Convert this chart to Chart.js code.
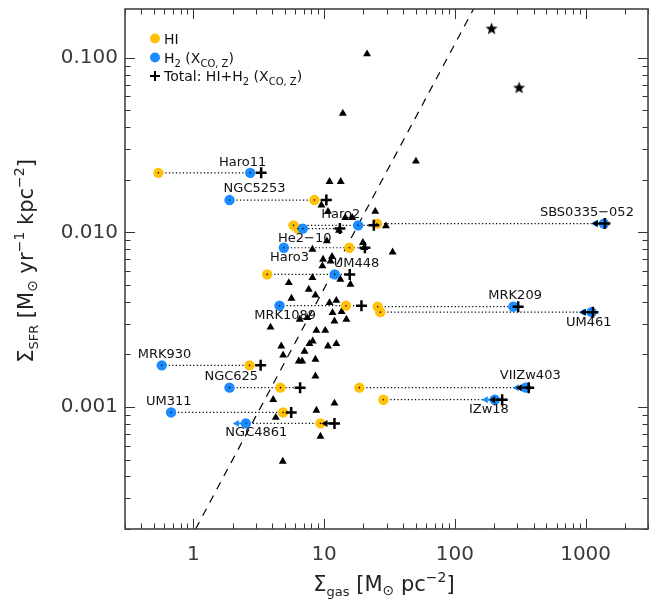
<!DOCTYPE html>
<html>
<head>
<meta charset="utf-8">
<script src="https://cdn.jsdelivr.net/npm/chart.js@4.4.1/dist/chart.umd.min.js"></script>
<style>
  body { margin: 0; background: #fff; }
  #wrap { width: 669px; height: 599px; }
</style>
</head>
<body>
<div id="wrap"><canvas id="grafico" width="669" height="599"></canvas></div>
<script>
    // galaxias com HI, H2 (X_CO,Z) e total
    const galaxies = ['Haro11', 'NGC5253', 'Haro2', 'He2−10', 'Haro3', 'UM448', 'MRK1089', 'MRK209',
                      'UM461', 'SBS0335−052', 'MRK930', 'NGC625', 'VIIZw403', 'IZw18', 'UM311', 'NGC4861'];
    const sfrGal   = [0.0219, 0.0153, 0.01096, 0.0105, 0.00816, 0.00574, 0.0038, 0.00375,
                      0.00349, 0.01122, 0.00173, 0.00129, 0.00129, 0.0011, 0.00093, 0.000805];
    const hiGas    = [0.54, 8.43, 5.83, 6.3, 15.6, 3.67, 14.7, 25.7, 26.9, 25.4, 2.69, 4.64, 18.6, 28.4, 4.86, 9.37];
    const h2Gas    = [2.72, 1.89, 18.2, 6.87, 4.92, 12.05, 4.56, 280, 1110, 1380, 0.573, 1.89, 348, 202, 0.675, 2.52];
    const totalGas = [3.30, 10.4, 24.0, 13.2, 20.5, 15.7, 19.3, 305, 1137, 1405, 3.27, 6.55, 367, 230, 5.6, 12.0];
    const h2Limit  = [0, 0, 0, 0, 0, 0, 0, 0, 1, 1, 0, 0, 1, 1, 0, 1];

    // amostra de comparacao (triangulos)
    const triGas = [21.3, 13.9, 11.0, 13.4, 50.4, 9.53, 10.7, 14.5, 16.4, 24.6, 13.0, 29.7, 19.8, 20.3,
                    10.5, 8.14, 33.4, 11.5, 9.82, 11.2, 9.7, 8.14, 13.3, 15.9, 5.37, 7.63, 5.63, 8.58,
                    11.0, 12.4, 11.6, 13.6, 6.51, 7.42, 12.0, 14.8, 3.89, 8.73, 10.2, 8.18, 7.72, 4.70,
                    10.7, 12.4, 7.08, 4.86, 6.40, 6.79, 8.58, 8.58, 4.08, 12.0, 4.27, 8.73, 9.37, 4.83];
    const triSfr = [0.105, 0.048, 0.0195, 0.0195, 0.0255, 0.0143, 0.01315, 0.01213, 0.01213, 0.01315, 0.01026, 0.01087, 0.00873, 0.00817,
                    0.00891, 0.00798, 0.0077, 0.00726, 0.007, 0.00684, 0.00641, 0.0055, 0.00537, 0.00503, 0.00514, 0.00471, 0.00418, 0.00437,
                    0.00395, 0.00407, 0.00346, 0.00351, 0.00317, 0.00324, 0.0031, 0.00317, 0.00286, 0.00274, 0.00274, 0.00238, 0.0023, 0.00223,
                    0.00223, 0.0023, 0.00208, 0.00198, 0.00183, 0.00183, 0.00187, 0.0015, 0.0011, 0.00105, 0.00087, 0.000956, 0.000678, 0.000488];

    // estrelas
    const starGas = [191, 310];
    const starSfr = [0.146, 0.067];

    // relacao Kennicutt-Schmidt (pontas)
    const ksGas = [1.04, 139];
    const ksSfr = [0.0002, 0.19];

    const xTicks = [1, 10, 100, 1000];
    const yTicks = [0.001, 0.01, 0.1];

    // onde fica cada nome (em unidades dos eixos)
    const labelAnchor = [[2.38, 0.0251], [2.94, 0.0178], [13.4, 0.01256], [7.11, 0.0092], [5.43, 0.00716],
                         [17.7, 0.0066], [5.04, 0.00334], [289, 0.00435], [1056, 0.00305], [1023, 0.01297],
                         [0.601, 0.002], [1.95, 0.001486], [377, 0.00151], [182, 0.000965], [0.648, 0.00107],
                         [3.03, 0.00071]];

    const YELLOW = '#FFC10A';
    const BLUE = '#1A8CFF';
    const FONT = '"DejaVu Sans", sans-serif';

    function starImage(r) {
      const c = document.createElement('canvas');
      c.width = c.height = Math.ceil(2 * r + 2);
      const g = c.getContext('2d');
      const m = c.width / 2;
      g.fillStyle = '#000';
      g.beginPath();
      for (let k = 0; k < 10; k++) {
        const a = -Math.PI / 2 + k * Math.PI / 5;
        const rr = k % 2 ? r * 0.42 : r;
        g.lineTo(m + rr * Math.cos(a), m + rr * Math.sin(a));
      }
      g.closePath();
      g.fill();
      return c;
    }

    function arrow(ctx, x0, y0, color) {
      const len = 13, head = 6;
      ctx.strokeStyle = color;
      ctx.fillStyle = color;
      ctx.lineWidth = 2;
      ctx.beginPath();
      ctx.moveTo(x0, y0);
      ctx.lineTo(x0 - len + head, y0);
      ctx.stroke();
      ctx.beginPath();
      ctx.moveTo(x0 - len, y0);
      ctx.lineTo(x0 - len + head, y0 - 3.5);
      ctx.lineTo(x0 - len + head, y0 + 3.5);
      ctx.closePath();
      ctx.fill();
    }

    // texto com sub/sobrescrito: partes = [texto, tamanho, deslocamento]
    function richText(ctx, parts, x, y, align) {
      let w = 0;
      parts.forEach(p => { ctx.font = p[1] + 'px ' + FONT; w += ctx.measureText(p[0]).width; });
      let cx = align === 'center' ? x - w / 2 : x;
      ctx.textAlign = 'left';
      ctx.textBaseline = 'alphabetic';
      parts.forEach(p => {
        ctx.font = p[1] + 'px ' + FONT;
        ctx.fillText(p[0], cx, y + p[2]);
        cx += ctx.measureText(p[0]).width;
      });
    }

    function logTicks(min, max) {
      const out = [];
      for (let e = Math.floor(Math.log10(min)); e <= Math.ceil(Math.log10(max)); e++) {
        for (let m = 1; m < 10; m++) {
          const v = m * Math.pow(10, e);
          if (v >= min * 0.999 && v <= max * 1.001) out.push({ v, major: m === 1 });
        }
      }
      return out;
    }

    const decor = {
      id: 'decor',
      afterDatasetsDraw(chart) {
        const { ctx, scales: { x, y } } = chart;
        ctx.save();
        galaxies.forEach((g, i) => {
          if (!h2Limit[i]) return;
          const py = y.getPixelForValue(sfrGal[i]);
          arrow(ctx, x.getPixelForValue(h2Gas[i]), py, BLUE);
          arrow(ctx, x.getPixelForValue(totalGas[i]), py, '#000');
        });
        ctx.restore();
      },
      afterDraw(chart) {
        const { ctx, chartArea: a, scales: { x, y } } = chart;
        ctx.save();

        // nomes das galaxias
        ctx.fillStyle = '#111';
        ctx.font = '13px ' + FONT;
        ctx.textAlign = 'center';
        ctx.textBaseline = 'middle';
        galaxies.forEach((g, i) => {
          ctx.fillText(g, x.getPixelForValue(labelAnchor[i][0]), y.getPixelForValue(labelAnchor[i][1]));
        });

        // rotulos dos eixos
        ctx.fillStyle = '#3a3a3a';
        ctx.font = '20px ' + FONT;
        ctx.textAlign = 'center';
        ctx.textBaseline = 'middle';
        xTicks.forEach(v => ctx.fillText(String(v), x.getPixelForValue(v), a.bottom + 26));
        ctx.textAlign = 'right';
        yTicks.forEach(v => ctx.fillText(v.toFixed(3), a.left - 7, y.getPixelForValue(v)));

        // tracos para dentro nos quatro lados
        ctx.strokeStyle = '#333';
        ctx.lineWidth = 1;
        ctx.beginPath();
        logTicks(x.min, x.max).forEach(t => {
          const px = Math.round(x.getPixelForValue(t.v)) + 0.5;
          const l = t.major ? 10 : 5.5;
          ctx.moveTo(px, a.bottom); ctx.lineTo(px, a.bottom - l);
          ctx.moveTo(px, a.top); ctx.lineTo(px, a.top + l);
        });
        logTicks(y.min, y.max).forEach(t => {
          const py = Math.round(y.getPixelForValue(t.v)) + 0.5;
          const l = t.major ? 10 : 5.5;
          ctx.moveTo(a.left, py); ctx.lineTo(a.left + l, py);
          ctx.moveTo(a.right, py); ctx.lineTo(a.right - l, py);
        });
        ctx.stroke();

        ctx.strokeStyle = '#444';
        ctx.lineWidth = 1.6;
        ctx.strokeRect(a.left, a.top, a.right - a.left, a.bottom - a.top);

        // titulos dos eixos
        ctx.fillStyle = '#222';
        richText(ctx, [['Σ', 21, 0], ['gas', 13, 5], [' [M', 21, 0], ['⊙', 14, 4], [' pc', 21, 0],
                       ['−2', 14, -9], [']', 21, 0]], 384, 591, 'center');
        ctx.save();
        ctx.translate(0, 261);
        ctx.rotate(-Math.PI / 2);
        richText(ctx, [['Σ', 21, 0], ['SFR', 13, 5], [' [M', 21, 0], ['⊙', 14, 4], [' yr', 21, 0],
                       ['−1', 14, -9], [' kpc', 21, 0], ['−2', 14, -9], [']', 21, 0]], 0, 33, 'center');
        ctx.restore();

        // legenda
        ctx.fillStyle = YELLOW;
        ctx.beginPath(); ctx.arc(155, 38.5, 5, 0, Math.PI * 2); ctx.fill();
        ctx.fillStyle = BLUE;
        ctx.beginPath(); ctx.arc(155, 57.5, 5, 0, Math.PI * 2); ctx.fill();
        ctx.strokeStyle = '#000';
        ctx.lineWidth = 2;
        ctx.beginPath();
        ctx.moveTo(150, 76); ctx.lineTo(160, 76);
        ctx.moveTo(155, 71); ctx.lineTo(155, 81);
        ctx.stroke();
        ctx.fillStyle = '#111';
        richText(ctx, [['HI', 14, 0]], 164, 43.5, 'left');
        richText(ctx, [['H', 14, 0], ['2', 10, 4], [' (X', 14, 0], ['CO, Z', 10, 4], [')', 14, 0]], 164, 62.5, 'left');
        richText(ctx, [['Total: HI+H', 14, 0], ['2', 10, 4], [' (X', 14, 0], ['CO, Z', 10, 4], [')', 14, 0]], 164, 81, 'left');

        ctx.restore();
      }
    };

    const dotted = galaxies.map((g, i) => ({
      data: [
        { x: Math.min(hiGas[i], h2Gas[i], totalGas[i]), y: sfrGal[i] },
        { x: Math.max(hiGas[i], h2Gas[i], totalGas[i]), y: sfrGal[i] }
      ],
      showLine: true,
      borderColor: '#000',
      borderWidth: 1.2,
      borderDash: [1.2, 2.3],
      pointRadius: 0,
      order: 10
    }));

    const datasets = dotted.concat([
      {
        data: ksGas.map((v, i) => ({ x: v, y: ksSfr[i] })),
        showLine: true, borderColor: '#000', borderWidth: 1.2, borderDash: [8, 7],
        pointRadius: 0, order: 9
      },
      {
        data: triGas.map((v, i) => ({ x: v, y: triSfr[i] })),
        pointStyle: 'triangle', pointRadius: 4.6, backgroundColor: '#000', borderColor: '#000',
        borderWidth: 0, order: 8
      },
      {
        data: starGas.map((v, i) => ({ x: v, y: starSfr[i] })),
        pointStyle: starImage(6.4), pointRadius: 6, order: 8
      },
      {
        data: hiGas.map((v, i) => ({ x: v, y: sfrGal[i] })),
        pointRadius: 5.2, backgroundColor: YELLOW, borderWidth: 0, order: 6
      },
      {
        data: h2Gas.map((v, i) => ({ x: v, y: sfrGal[i] })),
        pointRadius: 5.2, backgroundColor: BLUE, borderWidth: 0, order: 5
      },
      {
        data: hiGas.concat(h2Gas).map((v, i) => ({ x: v, y: sfrGal[i % galaxies.length] })),
        pointRadius: 0.8, backgroundColor: '#000', borderWidth: 0, order: 4
      },
      {
        data: totalGas.map((v, i) => ({ x: v, y: sfrGal[i] })),
        pointStyle: 'cross', pointRadius: 5.5, borderColor: '#000', borderWidth: 2.5, order: 3
      }
    ]);

    function noPadding(s) {
      s.paddingTop = 0; s.paddingBottom = 0; s.paddingLeft = 0; s.paddingRight = 0;
    }

    new Chart(document.getElementById('grafico'), {
      type: 'scatter',
      data: { datasets },
      options: {
        responsive: false,
        animation: false,
        events: [],
        layout: { padding: { top: 9, right: 21, left: 0, bottom: 0 } },
        plugins: { legend: { display: false }, tooltip: { enabled: false } },
        scales: {
          x: {
            type: 'logarithmic', min: 0.3, max: 3000,
            grid: { display: false, drawTicks: false },
            border: { display: false },
            ticks: { display: false },
            afterFit: s => { s.height = 70; noPadding(s); }
          },
          y: {
            type: 'logarithmic', min: 0.0002, max: 0.19,
            grid: { display: false, drawTicks: false },
            border: { display: false },
            ticks: { display: false },
            afterFit: s => { s.width = 125; noPadding(s); }
          }
        }
      },
      plugins: [decor]
    });
</script>
</body>
</html>
